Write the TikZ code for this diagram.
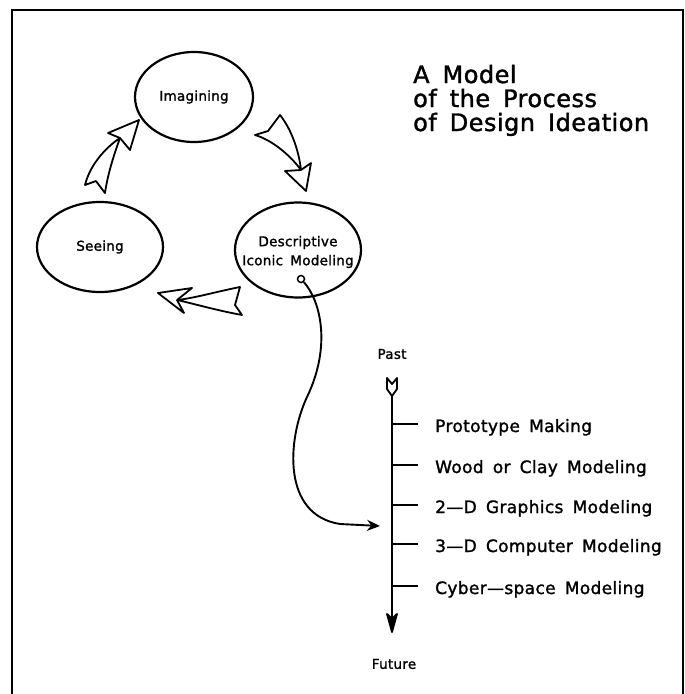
\documentclass[tikz,border=0pt]{standalone}
\usepackage{fontspec}
\setmainfont{DejaVu Sans}[LetterSpace=2, WordSpace=1.6, FakeBold=1.5]
\usetikzlibrary{shapes.geometric,arrows.meta}

\tikzset{
  stage/.style={draw, ellipse, line width=2.2pt, inner sep=0pt},
  stagetext/.style={font=\fontsize{13.5}{19}\selectfont, align=center, inner sep=0pt},
  flare/.style={draw, line width=1.8pt, fill=white, line join=round},
  axis/.style={line width=2.2pt},
  tick/.style={line width=1.6pt},
  item/.style={font=\fontsize{17}{20}\selectfont, inner sep=0pt, anchor=base west},
  endlabel/.style={font=\fontsize{13.5}{16}\selectfont, inner sep=0pt},
  heading/.style={font=\fontsize{24}{25}\selectfont, inner sep=0pt, anchor=base west},
  link/.style={line width=1.9pt, -{Stealth[length=13pt,width=11pt]}},
}

\begin{document}
\begin{tikzpicture}[x=1pt,y=-1pt]
\useasboundingbox (0,0) rectangle (685,694);

% frame
\draw[line width=1.6pt] (12,694) -- (12,10) -- (683,10) -- (683,694);

% title
\node[heading] (title1) at (413,83) {A Model};
\node[heading] (title2) at (413,107) {of the Process};
\node[heading] (title3) at (413,131) {of Design Ideation};

% the three stages
\node[stage, minimum width=118pt, minimum height=90pt] (imag) at (194,97) {};
\node[stagetext] (imag-text) at (imag.center) {Imagining};
\node[stage, minimum width=126pt, minimum height=90pt] (seeing) at (100,247) {};
\node[stagetext] (seeing-text) at (seeing.center) {Seeing};
\node[stage, minimum width=126pt, minimum height=95pt] (desc) at (298,250) {};
\node[stagetext] (desc-text) at ([yshift=-2pt]desc.center) {Descriptive\\Iconic Modeling};

% flared arrows of the cycle
% Imagining -> Descriptive Iconic Modeling
\draw[flare] (255,135) .. controls (272,140) and (290,155) .. (301,170)
  .. controls (299,152) and (292,130) .. (280,115) -- (268,131) -- cycle;
\draw[flare] (301,170) -- (285,171) -- (306,191) -- (311,163) -- cycle;
% Descriptive Iconic Modeling -> Seeing
\draw[flare] (240,287) .. controls (215,292) and (195,298) .. (177,300)
  .. controls (195,304) and (215,310) .. (242,315) -- (235,305) -- cycle;
\draw[flare] (177,300) -- (192,288) -- (158,293) -- (184,313) -- cycle;
% Seeing -> Imagining
\draw[flare] (85,185) .. controls (90,165) and (105,148) .. (120,138)
  .. controls (115,152) and (108,172) .. (105,193) -- (96,181) -- cycle;
\draw[flare] (120,138) -- (108,133) -- (139,120) -- (130,150) -- cycle;

% time axis
\node[endlabel] (past) at (392,354) {Past};
\node[endlabel] (future) at (394,664) {Future};
\coordinate (axis-top) at (392,395);
\coordinate (axis-end) at (392,630);
\coordinate (axis-in) at (380,526);
\draw[axis] (axis-top) -- (axis-end);
\draw[flare] (387,378) -- (392,384) -- (397,378) -- (397,389) -- (392,396) -- (387,389) -- cycle;
\draw[flare, fill=black] (392,632) -- (387,614) -- (392,619) -- (397,614) -- cycle;

\foreach \y/\name/\txt in {424/m1/Prototype Making,
                            465/m2/Wood or Clay Modeling,
                            505/m3/2—D Graphics Modeling,
                            544/m4/3—D Computer Modeling,
                            586/m5/Cyber—space Modeling}{
  \coordinate (\name-tick) at (392,\y);
  \draw[tick] (\name-tick) -- ++(26,0);
  \node[item] (\name) at (435,\y+8) {\txt};
}

% link from the modelling stage to the time axis
\node[circle, draw, line width=1.5pt, minimum size=7pt, inner sep=0pt, fill=white] (dot) at (301,279) {};
\draw[link] (dot) .. controls (320,300) and (332,345) .. (307,397)
  .. controls (287,440) and (282,515) .. (340,524) -- (axis-in);
\end{tikzpicture}
\end{document}
